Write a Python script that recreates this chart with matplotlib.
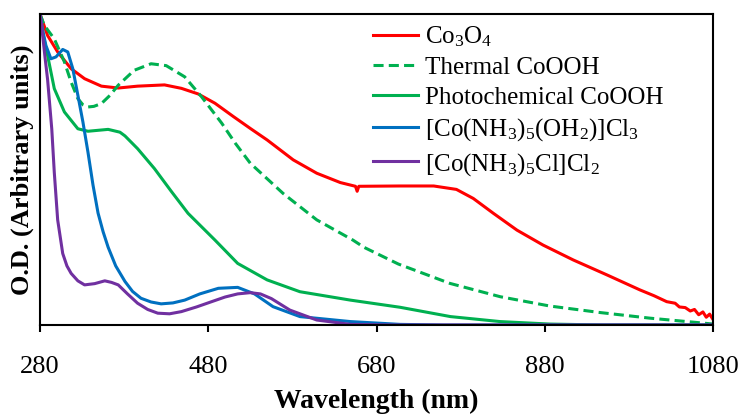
from matplotlib import pyplot as plt

plt.rcParams['font.family'] = 'Liberation Serif'
plt.rcParams['mathtext.fontset'] = 'custom'
plt.rcParams['mathtext.rm'] = 'Liberation Serif'
plt.rcParams['mathtext.it'] = 'Liberation Serif:italic'
plt.rcParams['mathtext.bf'] = 'Liberation Serif:bold'

# values (wavelength nm, O.D. normalised 0..1)
co3o4_x = [280, 289, 301, 317, 333, 353, 373, 396, 428, 448, 468, 488, 510, 530, 550, 581,
           609, 637, 655, 657, 659, 708, 748, 775, 795, 819, 847, 878, 914, 954, 993, 1010,
           1025, 1035, 1040, 1047, 1053, 1058, 1063, 1068, 1072, 1076, 1080]
co3o4_y = [1.0, 0.931, 0.878, 0.824, 0.792, 0.768, 0.762, 0.768, 0.772, 0.761, 0.743, 0.713,
           0.67, 0.632, 0.595, 0.531, 0.488, 0.458, 0.446, 0.43, 0.446, 0.447, 0.447, 0.436,
           0.407, 0.359, 0.305, 0.257, 0.209, 0.161, 0.113, 0.094, 0.075, 0.07, 0.058, 0.056,
           0.045, 0.05, 0.033, 0.042, 0.025, 0.035, 0.018]

thermal_x = [280, 285, 297, 309, 317, 325, 331, 337, 344, 353, 363, 373, 392, 412, 430, 452,
             472, 496, 512, 530, 569, 609, 652, 665, 706, 767, 827, 886, 946, 1005, 1065, 1080]
thermal_y = [1.0, 0.964, 0.92, 0.846, 0.781, 0.728, 0.708, 0.701, 0.703, 0.712, 0.738, 0.771,
             0.819, 0.84, 0.834, 0.798, 0.734, 0.649, 0.585, 0.52, 0.423, 0.338, 0.273, 0.25,
             0.196, 0.134, 0.091, 0.061, 0.04, 0.022, 0.007, 0.003]

photo_x = [280, 284, 289, 297, 309, 325, 337, 361, 375, 381, 396, 416, 436, 456, 488, 515,
           550, 589, 649, 708, 768, 827, 886, 950, 1080]
photo_y = [1.0, 0.93, 0.867, 0.76, 0.685, 0.631, 0.623, 0.629, 0.62, 0.608, 0.567, 0.503,
           0.43, 0.359, 0.273, 0.198, 0.145, 0.107, 0.08, 0.057, 0.027, 0.011, 0.003, 0.0, 0.0]

aqua_x = [280, 283, 287, 293, 299, 307, 313, 319, 325, 331, 337, 343, 349, 355, 361, 370,
          381, 390, 400, 412, 424, 438, 452, 470, 492, 515, 535, 557, 589, 649, 708, 760, 1080]
aqua_y = [1.0, 0.95, 0.899, 0.856, 0.862, 0.886, 0.878, 0.824, 0.739, 0.653, 0.556, 0.45,
          0.36, 0.3, 0.25, 0.19, 0.14, 0.108, 0.086, 0.074, 0.068, 0.071, 0.08, 0.1,
          0.118, 0.121, 0.1, 0.059, 0.027, 0.011, 0.002, 0.0, 0.0]

chloro_x = [280, 282, 286, 289, 294, 297, 301, 307, 312, 317, 325, 333, 345, 357, 365, 373,
            384, 396, 408, 420, 434, 448, 466, 484, 500, 515, 530, 542, 555, 577, 609, 649,
            700, 1080]
chloro_y = [1.0, 0.96, 0.86, 0.79, 0.63, 0.49, 0.338, 0.23, 0.19, 0.166, 0.142, 0.129, 0.133,
            0.142, 0.137, 0.129, 0.1, 0.07, 0.05, 0.038, 0.036, 0.043, 0.058, 0.075, 0.09,
            0.1, 0.104, 0.1, 0.085, 0.048, 0.016, 0.002, 0.0, 0.0]

labels = [r'Co$_3$O$_4$', 'Thermal CoOOH', 'Photochemical CoOOH',
          r'[Co(NH$_3$)$_5$(OH$_2$)]Cl$_3$', r'[Co(NH$_3$)$_5$Cl]Cl$_2$']
xticks = [280, 480, 680, 880, 1080]

fig = plt.figure(figsize=(7.41, 4.17), dpi=100)
ax = fig.add_axes([40 / 741, 1 - 325 / 417, 673 / 741, 311 / 417])

lw = 2.2
ax.plot(co3o4_x, co3o4_y, color='#FF0000', lw=lw, label=labels[0])
ax.plot(thermal_x, thermal_y, color='#00B050', lw=lw, dashes=(3.3, 1.7), label=labels[1])
ax.plot(photo_x, photo_y, color='#00B050', lw=lw, label=labels[2])
ax.plot(aqua_x, aqua_y, color='#0070C0', lw=lw, label=labels[3])
ax.plot(chloro_x, chloro_y, color='#7030A0', lw=lw, label=labels[4])

ax.set_xlim(280, 1080)
ax.set_ylim(0, 1)
ax.set_xticks(xticks)
ax.set_yticks([])
ax.tick_params(axis='x', direction='out', length=5, width=1.5, pad=17, labelsize=19)
for s in ax.spines.values():
    s.set_linewidth(1.5)

ax.set_xlabel('Wavelength (nm)', fontsize=20, fontweight='bold', labelpad=8)
ax.set_ylabel('O.D. (Arbitrary units)', fontsize=19, fontweight='bold', labelpad=4)

ax.legend(loc='upper left', bbox_to_anchor=(0.472, 1.015), frameon=False, fontsize=18,
          handlelength=1.8, handletextpad=0.3, labelspacing=0.3, borderpad=0.1)

fig.savefig('out.png', dpi=100)
